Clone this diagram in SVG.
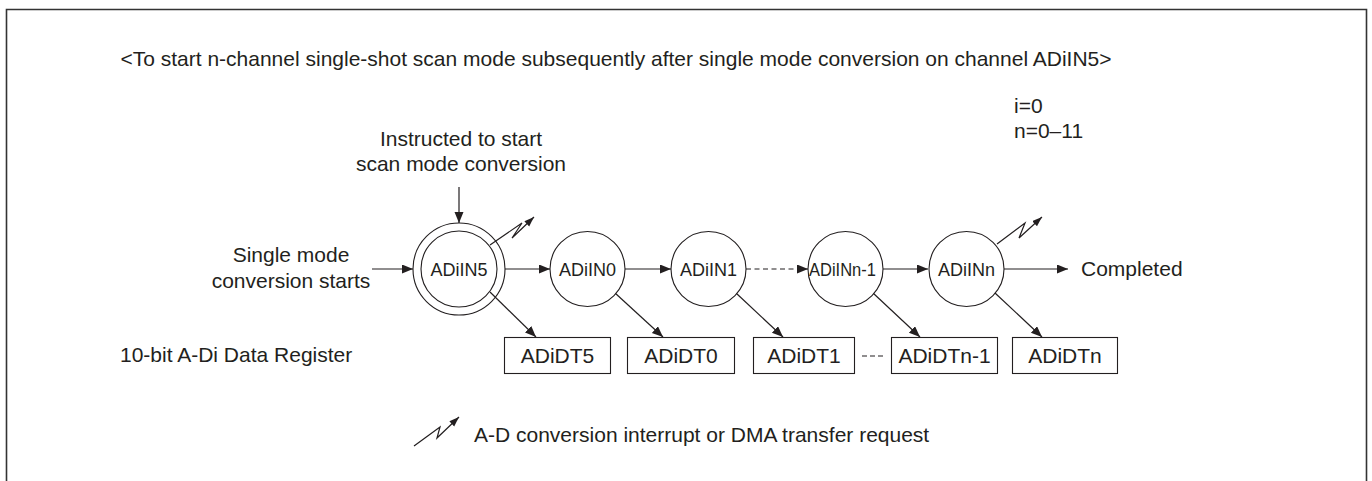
<svg xmlns="http://www.w3.org/2000/svg" width="1372" height="481" viewBox="0 0 1372 481">
<style>
text{font-family:"Liberation Sans",Arial,sans-serif;fill:#231f20;}
.t{font-size:21px;}
.c{font-size:18px;}
.mid{text-anchor:middle;}
.ln{stroke:#231f20;stroke-width:1.2;fill:none;}
.nd{stroke:#231f20;stroke-width:1.1;fill:#fff;}
.dash{stroke-dasharray:5 3.5;}
</style>
<defs>
<marker id="ah" markerUnits="userSpaceOnUse" markerWidth="12" markerHeight="10" refX="11" refY="4.5" orient="auto">
<path d="M0,0 L11,4.5 L0,9 z" fill="#231f20"/>
</marker>
<marker id="ahs" markerUnits="userSpaceOnUse" markerWidth="11" markerHeight="8" refX="10" refY="3.5" orient="auto">
<path d="M0,0 L10,3.5 L0,7 z" fill="#231f20"/>
</marker>
</defs>
<rect width="1372" height="481" fill="#fff"/>
<path d="M6.5,481 V9.5 H1366.5 V481" fill="none" stroke="#333" stroke-width="1.6"/>

<text class="t mid" x="616" y="66">&lt;To start n-channel single-shot scan mode subsequently after single mode conversion on channel ADiIN5&gt;</text>
<text class="t" x="1014" y="113">i=0</text>
<text class="t" x="1014" y="138">n=0–11</text>
<text class="t mid" x="461" y="146">Instructed to start</text>
<text class="t mid" x="461" y="171">scan mode conversion</text>
<text class="t mid" x="291" y="262">Single mode</text>
<text class="t mid" x="291" y="288">conversion starts</text>
<text class="t" x="1081" y="276">Completed</text>
<text class="t" x="120" y="362">10-bit A-Di Data Register</text>

<g id="connectors">
<line class="ln" x1="459" y1="187" x2="459" y2="223" marker-end="url(#ah)"/>
<line class="ln" x1="372" y1="269" x2="413" y2="269" marker-end="url(#ah)"/>
<line class="ln" x1="505" y1="269" x2="550" y2="269" marker-end="url(#ah)"/>
<line class="ln" x1="625" y1="269" x2="671" y2="269" marker-end="url(#ah)"/>
<line class="ln dash" x1="746" y1="269" x2="808" y2="269" marker-end="url(#ah)"/>
<line class="ln" x1="883" y1="269" x2="928" y2="269" marker-end="url(#ah)"/>
<line class="ln" x1="1004" y1="269" x2="1068" y2="269" marker-end="url(#ah)"/>
<line class="ln" x1="615" y1="293" x2="663" y2="337" marker-end="url(#ah)"/>
<line class="ln" x1="736" y1="293" x2="783" y2="337" marker-end="url(#ah)"/>
<line class="ln" x1="873" y1="293" x2="920" y2="337" marker-end="url(#ah)"/>
<line class="ln" x1="995" y1="293" x2="1042" y2="337" marker-end="url(#ah)"/>
<line class="ln" x1="862" y1="356" x2="884" y2="356" style="stroke-dasharray:5 3"/>
</g>

<g id="n-adiin5">
<circle class="nd" cx="459" cy="269" r="46"/>
<circle class="nd" cx="459" cy="269" r="38"/>
<text class="c mid" x="459" y="276">ADiIN5</text>
</g>
<g id="n-adiin0">
<circle class="nd" cx="587.5" cy="269" r="37.5"/>
<text class="c mid" x="587.5" y="276">ADiIN0</text>
</g>
<g id="n-adiin1">
<circle class="nd" cx="708.5" cy="269" r="37.5"/>
<text class="c mid" x="708.5" y="276">ADiIN1</text>
</g>
<g id="n-adiinn-1">
<circle class="nd" cx="845.5" cy="269" r="37.5"/>
<text class="c" x="809" y="276" textLength="67" lengthAdjust="spacingAndGlyphs">ADiINn-1</text>
</g>
<g id="n-adiinn">
<circle class="nd" cx="966.5" cy="269" r="37.5"/>
<text class="c mid" x="966.5" y="276">ADiINn</text>
</g>

<g id="signals">
<polyline class="ln" points="490,245 522,223 512,238 534,217" marker-end="url(#ahs)"/>
<polyline class="ln" points="997,244 1025,223 1019,238 1042,217" marker-end="url(#ahs)"/>
<line class="ln" x1="490" y1="292" x2="536" y2="337" marker-end="url(#ah)"/>
</g>

<g id="r-adidt5">
<rect class="nd" x="504.5" y="337.5" width="106" height="36"/>
<text class="t mid" x="557.5" y="363">ADiDT5</text>
</g>
<g id="r-adidt0">
<rect class="nd" x="627.5" y="337.5" width="107" height="36"/>
<text class="t mid" x="681" y="363">ADiDT0</text>
</g>
<g id="r-adidt1">
<rect class="nd" x="753.5" y="337.5" width="101" height="36"/>
<text class="t mid" x="804" y="363">ADiDT1</text>
</g>
<g id="r-adidtn-1">
<rect class="nd" x="891.5" y="337.5" width="106" height="36"/>
<text class="t mid" x="944.5" y="363">ADiDTn-1</text>
</g>
<g id="r-adidtn">
<rect class="nd" x="1012.5" y="337.5" width="105" height="36"/>
<text class="t mid" x="1065" y="363">ADiDTn</text>
</g>

<g id="legend">
<polyline class="ln" points="414,446 440,427 437,438 459,417" marker-end="url(#ahs)"/>
<text class="t" x="474" y="442">A-D conversion interrupt or DMA transfer request</text>
</g>
</svg>
